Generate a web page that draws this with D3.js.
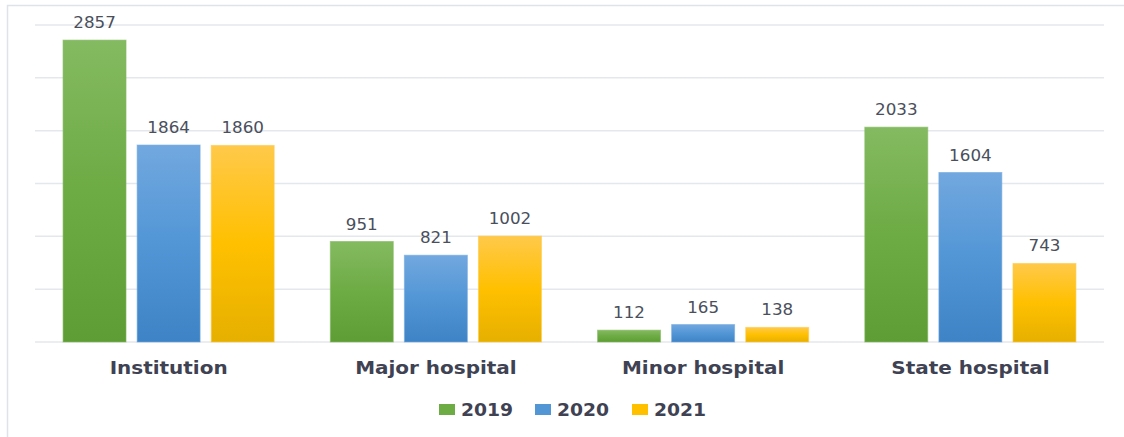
<!DOCTYPE html>
<html>
<head>
<meta charset="utf-8">
<script src="https://cdn.jsdelivr.net/npm/d3@7"></script>
<style>
html,body{margin:0;padding:0;background:#fff;}
svg{display:block;}
</style>
</head>
<body>
<svg id="chart" width="1124" height="437"></svg>
<script>
const categories = ["Institution", "Major hospital", "Minor hospital", "State hospital"];
const seriesNames = ["2019", "2020", "2021"];
const values2019 = [2857, 951, 112, 2033];
const values2020 = [1864, 821, 165, 1604];
const values2021 = [1860, 1002, 138, 743];
const yTicks = [0, 500, 1000, 1500, 2000, 2500, 3000];

const seriesValues = [values2019, values2020, values2021];
const colors = [
  {top: "#84ba61", mid: "#6dab44", bot: "#5e9c35"},
  {top: "#72a8df", mid: "#5296d6", bot: "#3e83c5"},
  {top: "#ffc94a", mid: "#ffc000", bot: "#e6b000"}
];

const svg = d3.select("#chart");
const W = 1124, H = 437;
const plotLeft = 35, plotRight = 1104, plotTop = 25, plotBase = 342;

// outer border
svg.append("path").attr("d", `M7.5,${H} L7.5,5.5 L${W},5.5`)
  .attr("fill", "none").attr("stroke", "#dfe2e7").attr("stroke-width", 1.5);

const defs = svg.append("defs");
colors.forEach((c, i) => {
  const g = defs.append("linearGradient").attr("id", "g" + i)
    .attr("x1", 0).attr("y1", 0).attr("x2", 0).attr("y2", 1);
  g.append("stop").attr("offset", "0%").attr("stop-color", c.top);
  g.append("stop").attr("offset", "50%").attr("stop-color", c.mid);
  g.append("stop").attr("offset", "100%").attr("stop-color", c.bot);
});

const x0 = d3.scaleBand().domain(categories).range([plotLeft, plotRight]).paddingInner(0.21).paddingOuter(0.105);
const x1 = d3.scaleBand().domain(seriesNames).range([0, x0.bandwidth()]).paddingInner(0.15).paddingOuter(0);
const y = d3.scaleLinear().domain([0, 3000]).range([plotBase, plotTop]);

// gridlines
svg.append("g").selectAll("line").data(yTicks).join("line")
  .attr("x1", plotLeft).attr("x2", plotRight)
  .attr("y1", d => y(d)).attr("y2", d => y(d))
  .attr("stroke", "#e4e7ec").attr("stroke-width", 1.5);

const groups = svg.append("g").selectAll("g").data(categories).join("g")
  .attr("transform", d => `translate(${x0(d)},0)`);

groups.each(function(cat, ci) {
  const g = d3.select(this);
  seriesNames.forEach((s, si) => {
    const v = seriesValues[si][ci];
    g.append("rect")
      .attr("x", x1(s)).attr("width", x1.bandwidth())
      .attr("y", y(v)).attr("height", plotBase - y(v))
      .attr("fill", `url(#g${si})`)
      .attr("stroke", colors[si].top).attr("stroke-opacity", 0.6).attr("stroke-width", 1);
    g.append("text")
      .attr("transform", `translate(${x1(s) + x1.bandwidth() / 2},${y(v) - 12}) scale(1.08,1)`)
      .attr("text-anchor", "middle")
      .attr("font-family", "DejaVu Sans").attr("font-size", 15.5)
      .attr("fill", "#4a4f5c")
      .text(v);
  });
});

// category labels
svg.append("g").selectAll("text").data(categories).join("text")
  .attr("transform", d => `translate(${x0(d) + x0.bandwidth() / 2},374) scale(1.11,1)`)
  .attr("text-anchor", "middle")
  .attr("font-family", "DejaVu Sans").attr("font-weight", "bold").attr("font-size", 18)
  .attr("fill", "#3e4252")
  .text(d => d);

// legend
const legendX = [439, 535, 632];
const leg = svg.append("g").selectAll("g").data(seriesNames).join("g")
  .attr("transform", (d, i) => `translate(${legendX[i]},0)`);
leg.append("rect").attr("x", 0).attr("y", 404).attr("width", 16).attr("height", 11)
  .attr("fill", (d, i) => colors[i].mid);
leg.append("text").attr("transform", "translate(22,416) scale(1.04,1)")
  .attr("font-family", "DejaVu Sans").attr("font-weight", "bold").attr("font-size", 18)
  .attr("fill", "#3e4252")
  .text(d => d);
</script>
</body>
</html>
